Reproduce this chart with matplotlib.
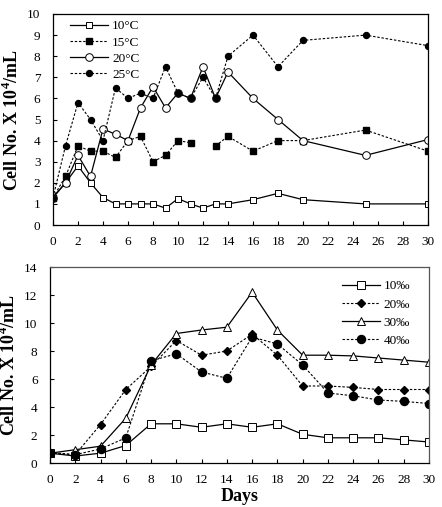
import numpy as np
import matplotlib
matplotlib.use("Agg")
import matplotlib.pyplot as plt

plt.rcParams['font.family'] = ['Liberation Serif', 'DejaVu Serif']
plt.rcParams['mathtext.fontset'] = 'custom'
plt.rcParams['mathtext.rm'] = 'Liberation Serif'
plt.rcParams['mathtext.bf'] = 'Liberation Serif:bold'

# ---- top panel data (temperature) ----
days_top = [0, 1, 2, 3, 4, 5, 6, 7, 8, 9, 10, 11, 12, 13, 14, 16, 18, 20, 25, 30]
t10 = [1.3, 2.0, 2.8, 2.0, 1.3, 1.0, 1.0, 1.0, 1.0, 0.8, 1.25, 1.0, 0.8, 1.0, 1.0, 1.2, 1.5, 1.2, 1.0, 1.0]
t15 = [1.3, 2.3, 3.75, 3.5, 3.5, 3.2, 4.0, 4.2, 3.0, 3.3, 4.0, 3.9, np.nan, 3.75, 4.2, 3.5, 4.0, 4.0, 4.5, 3.5]
t20 = [1.3, 2.0, 3.3, 2.3, 4.55, 4.3, 4.0, 5.55, 6.55, 5.55, 6.25, 6.0, 7.5, 6.0, 7.25, 6.0, 5.0, 4.0, 3.3, 4.05]
t25 = [1.3, 3.75, 5.8, 5.0, 4.0, 6.5, 6.0, 6.25, 6.0, 7.5, 6.25, 6.0, 7.0, 6.0, 8.0, 9.0, 7.5, 8.75, 9.0, 8.5]
top_labels = ['10\u00b0C', '15\u00b0C', '20\u00b0C', '25\u00b0C']

# ---- bottom panel data (salinity) ----
days_bot = [0, 2, 4, 6, 8, 10, 12, 14, 16, 18, 20, 22, 24, 26, 28, 30]
s10 = [0.7, 0.5, 0.7, 1.25, 2.8, 2.8, 2.55, 2.8, 2.55, 2.8, 2.05, 1.8, 1.8, 1.8, 1.65, 1.5]
s20 = [0.7, 0.6, 2.75, 5.25, 6.9, 8.75, 7.7, 8.0, 9.2, 7.7, 5.5, 5.5, 5.4, 5.25, 5.25, 5.25]
s30 = [0.7, 0.95, 1.2, 3.2, 7.0, 9.25, 9.5, 9.7, 12.2, 9.5, 7.7, 7.7, 7.65, 7.5, 7.35, 7.2]
s40 = [0.75, 0.6, 1.0, 1.8, 7.3, 7.8, 6.5, 6.05, 9.0, 8.5, 7.0, 5.0, 4.8, 4.5, 4.4, 4.25]
bot_labels = ['10\u2030', '20\u2030', '30\u2030', '40\u2030']

fig = plt.figure(figsize=(4.42, 5.07), dpi=100)
ax1 = fig.add_axes([53/442, 1-225/507, 375/442, 211/507])
ax2 = fig.add_axes([50/442, 1-463/507, 379/442, 196/507])

dash = (0, (2.2, 1.6))
lw_s = 0.9
lw_d = 0.8

ax1.plot(days_top, t10, color='black', lw=lw_s, marker='s', ms=4.8, mfc='white', mec='black', mew=0.7, label=top_labels[0])
ax1.plot(days_top, t15, color='black', lw=lw_d, ls=dash, marker='s', ms=5.0, mfc='black', mec='black', label=top_labels[1])
ax1.plot(days_top, t20, color='black', lw=lw_s, marker='o', ms=5.5, mfc='white', mec='black', mew=0.7, label=top_labels[2])
ax1.plot(days_top, t25, color='black', lw=lw_d, ls=dash, marker='o', ms=4.3, mfc='black', mec='black', label=top_labels[3])

ax2.plot(days_bot, s10, color='black', lw=lw_s, marker='s', ms=5.2, mfc='white', mec='black', mew=0.7, label=bot_labels[0])
ax2.plot(days_bot, s20, color='black', lw=lw_d, ls=dash, marker='D', ms=3.8, mfc='black', mec='black', label=bot_labels[1])
ax2.plot(days_bot, s30, color='black', lw=lw_s, marker='^', ms=5.5, mfc='white', mec='black', mew=0.7, label=bot_labels[2])
ax2.plot(days_bot, s40, color='black', lw=lw_d, ls=dash, marker='o', ms=5.8, mfc='black', mec='black', label=bot_labels[3])

for ax in (ax1, ax2):
    ax.set_xlim(0, 30)
    ax.set_xticks(np.arange(0, 31, 2))
    ax.tick_params(direction='in', length=3, width=0.8, labelsize=9.5)
    ax.tick_params(axis='x', pad=8)
    ax.tick_params(axis='y', pad=9)
    for sp in ax.spines.values():
        sp.set_linewidth(0.9)
    ax.set_ylabel('Cell No. X 10$^{\\mathbf{4}}$/mL', fontsize=13, fontweight='bold', labelpad=4)

ax1.set_ylim(0, 10)
ax1.set_yticks(np.arange(0, 11, 1))
ax2.set_ylim(0, 14)
ax2.set_yticks(np.arange(0, 15, 2))
ax2.set_xlabel('Days', fontsize=13, fontweight='bold', labelpad=1.5)
for sp in ('top', 'right'):
    ax2.spines[sp].set_color('#555555')

ax1.legend(loc='upper left', frameon=False, fontsize=9.5, handlelength=2.9, labelspacing=0.3,
           handletextpad=0.3, borderaxespad=0.3, bbox_to_anchor=(0.02, 1.015))
ax2.legend(loc='upper right', frameon=False, fontsize=9.5, handlelength=2.9, labelspacing=0.45,
           handletextpad=0.3, borderaxespad=0.3, bbox_to_anchor=(0.975, 0.98))

fig.savefig('out.png', dpi=100)
